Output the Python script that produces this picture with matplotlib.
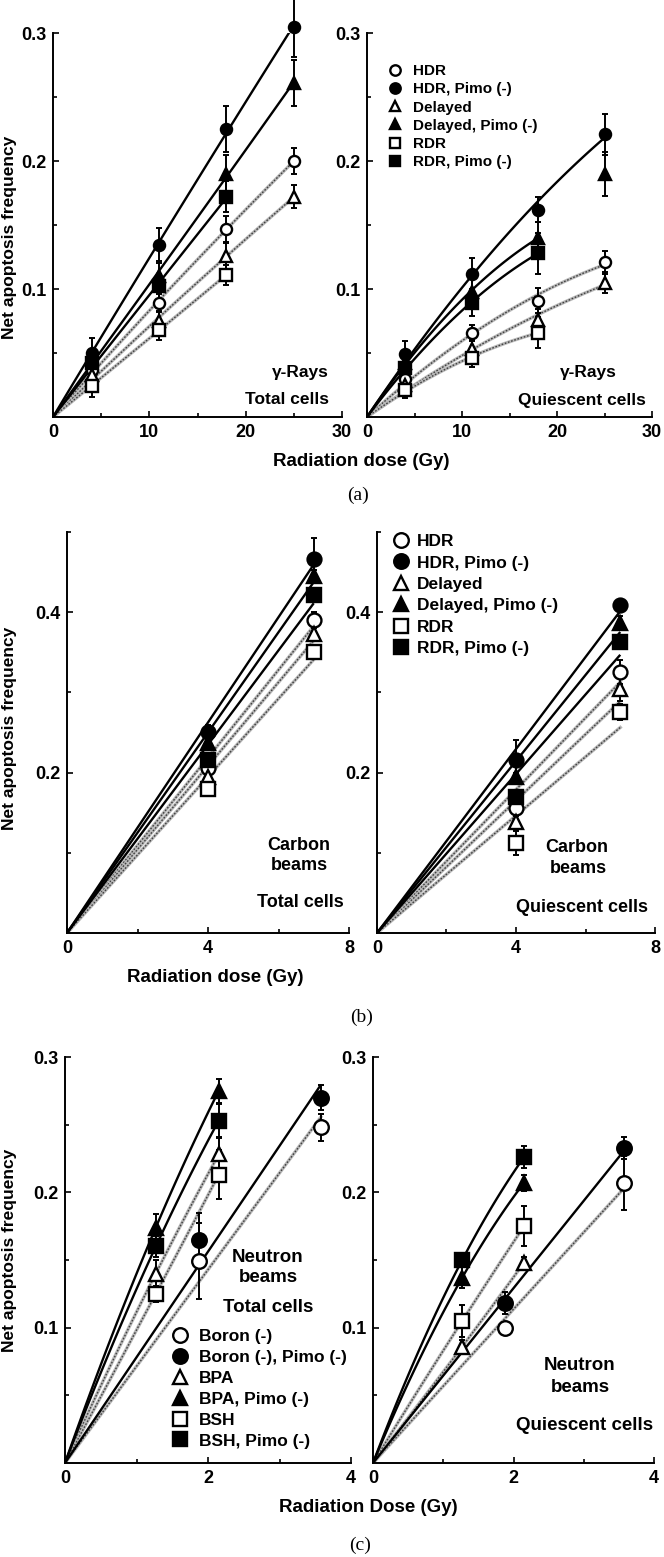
import numpy as np
import matplotlib
matplotlib.use("Agg")
import matplotlib.pyplot as plt
from matplotlib.lines import Line2D
from matplotlib.ticker import FormatStrFormatter

plt.rcParams['font.family'] = ['Liberation Sans', 'DejaVu Sans']
plt.rcParams['font.weight'] = 'bold'

W, H = 664, 1557  # figure size in pixels

markers = ['o', 'o', '^', '^', 's', 's']
filled = [False, True, False, True, False, True]

# ---- (a) gamma rays ----
dose_a = [4, 11, 18, 25]
names_a = ["HDR", "HDR, Pimo (-)", "Delayed", "Delayed, Pimo (-)", "RDR", "RDR, Pimo (-)"]
nan = np.nan
total_a = [
    [0.037, 0.089, 0.147, 0.200],
    [0.050, 0.134, 0.225, 0.305],
    [0.033, 0.075, 0.126, 0.172],
    [0.045, 0.110, 0.190, 0.261],
    [0.024, 0.068, 0.111, nan],
    [0.042, 0.102, 0.172, nan],
]
total_a_err = [
    [0.005, 0.007, 0.010, 0.010],
    [0.012, 0.014, 0.018, 0.024],
    [0.005, 0.008, 0.010, 0.009],
    [0.008, 0.012, 0.015, 0.018],
    [0.008, 0.008, 0.008, nan],
    [0.008, 0.010, 0.012, nan],
]
quies_a = [
    [0.030, 0.066, 0.091, 0.121],
    [0.049, 0.112, 0.162, 0.221],
    [0.025, 0.053, 0.076, 0.105],
    [0.042, 0.098, 0.140, 0.190],
    [0.021, 0.046, 0.066, nan],
    [0.038, 0.089, 0.128, nan],
]
quies_a_err = [
    [0.006, 0.006, 0.010, 0.009],
    [0.010, 0.012, 0.010, 0.016],
    [0.005, 0.006, 0.008, 0.008],
    [0.008, 0.010, 0.012, 0.017],
    [0.006, 0.007, 0.012, nan],
    [0.008, 0.010, 0.016, nan],
]
fit_end_total_a = [25, 25, 25, 25, 18, 18]
fit_end_quies_a = [25, 25, 25, 18, 18, 18]

# ---- (b) carbon beams ----
dose_b = [4, 7]
total_b = [
    [0.206, 0.390],
    [0.251, 0.466],
    [0.194, 0.373],
    [0.237, 0.445],
    [0.179, 0.350],
    [0.216, 0.422],
]
total_b_err = [
    [0.006, 0.010],
    [0.008, 0.027],
    [0.006, 0.008],
    [0.006, 0.008],
    [0.006, 0.008],
    [0.006, 0.008],
]
quies_b = [
    [0.156, 0.326],
    [0.216, 0.409],
    [0.139, 0.304],
    [0.194, 0.387],
    [0.112, 0.276],
    [0.170, 0.363],
]
quies_b_err = [
    [0.010, 0.015],
    [0.025, 0.005],
    [0.010, 0.015],
    [0.006, 0.008],
    [0.015, 0.010],
    [0.006, 0.008],
]

# ---- (c) neutron beams ----
dose_boron = [1.88, 3.58]
dose_bpa = [1.27, 2.15]
names_c = ["Boron (-)", "Boron (-), Pimo (-)", "BPA", "BPA, Pimo (-)", "BSH", "BSH, Pimo (-)"]
dose_c = [dose_boron, dose_boron, dose_bpa, dose_bpa, dose_bpa, dose_bpa]
total_c = [
    [0.149, 0.248],
    [0.165, 0.270],
    [0.140, 0.228],
    [0.174, 0.275],
    [0.125, 0.213],
    [0.160, 0.253],
]
total_c_err = [
    [0.028, 0.010],
    [0.020, 0.009],
    [0.010, 0.012],
    [0.010, 0.009],
    [0.006, 0.018],
    [0.008, 0.012],
]
quies_c = [
    [0.100, 0.207],
    [0.118, 0.233],
    [0.086, 0.148],
    [0.137, 0.207],
    [0.105, 0.175],
    [0.150, 0.226],
]
quies_c_err = [
    [0.004, 0.020],
    [0.008, 0.008],
    [0.005, 0.004],
    [0.008, 0.006],
    [0.012, 0.015],
    [0.004, 0.008],
]
quad_c = [False, False, True, True, True, True]

fig = plt.figure(figsize=(W / 100, H / 100), dpi=100)


def add_ax(x0, x1, y0, y1):
    # pixel box -> figure fraction
    return fig.add_axes([x0 / W, 1 - y1 / H, (x1 - x0) / W, (y1 - y0) / H])


def ftext(x, y, s, **kw):
    fig.text(x / W, 1 - y / H, s, ha='center', va='center', **kw)


def setup(ax, xmax, xmaj, xmin, ymax, ymaj, ymin):
    ax.set_xlim(0, xmax)
    ax.set_ylim(0, ymax)
    ax.set_xticks(xmaj)
    ax.set_xticks(xmin, minor=True)
    ax.set_yticks(ymaj)
    ax.set_yticks(ymin, minor=True)
    ax.yaxis.set_major_formatter(FormatStrFormatter('%.1f'))
    for s in ['top', 'right']:
        ax.spines[s].set_visible(False)
    for s in ['left', 'bottom']:
        ax.spines[s].set_linewidth(1.4)
    ax.tick_params(which='major', direction='in', length=4, width=1.2, labelsize=13, pad=5)
    ax.tick_params(which='minor', direction='in', length=3, width=1.2)
    ax.patch.set_alpha(0)


def fit_line(d, y, quad, dmax):
    d = np.asarray(d, float)
    y = np.asarray(y, float)
    ok = ~np.isnan(y) & (d <= dmax)
    d, y = d[ok], y[ok]
    A = np.column_stack([d, d ** 2]) if quad else d[:, None]
    coef = np.linalg.lstsq(A, y, rcond=None)[0]
    xs = np.linspace(0, d.max(), 80)
    ys = coef[0] * xs + (coef[1] * xs ** 2 if quad else 0)
    return xs, ys


def draw(ax, doses, vals, errs, quad, fit_end, ms):
    for i in range(6):
        xs, ys = fit_line(doses[i], vals[i], quad[i], fit_end[i])
        if filled[i]:
            ax.plot(xs, ys, color='k', lw=1.7, zorder=3, solid_capstyle='butt')
        else:
            ax.plot(xs, ys, color='0.72', lw=2.4, zorder=2)
            ax.plot(xs, ys, color='0.25', lw=1.0, dashes=(1.2, 1.2), zorder=2)
    for i in range(6):
        ax.errorbar(doses[i], vals[i], yerr=errs[i], fmt='none', ecolor='k',
                    elinewidth=1.4, capsize=2.5, capthick=1.4, zorder=4, clip_on=False)
        ax.plot(doses[i], vals[i], ls='none', marker=markers[i], ms=ms,
                mfc='k' if filled[i] else 'white', mec='k', mew=1.7, zorder=5, clip_on=False)


def add_legend(ax, labels, ms, fs, x, y, hl, pad, sp):
    handles = [Line2D([], [], ls='none', marker=markers[i], ms=ms,
                      mfc='k' if filled[i] else 'white', mec='k', mew=1.7) for i in range(6)]
    ax.legend(handles, labels, loc='upper left', bbox_to_anchor=(x / W, 1 - y / H),
              bbox_transform=fig.transFigure, frameon=False, borderpad=0, borderaxespad=0,
              handlelength=hl, handletextpad=pad, labelspacing=sp,
              prop={'size': fs, 'weight': 'bold'})


# row (a)
ax1 = add_ax(53, 342, 33, 417)
ax2 = add_ax(367, 652, 33, 417)
for ax in (ax1, ax2):
    setup(ax, 30, [0, 10, 20, 30], [5, 15, 25], 0.3, [0.1, 0.2, 0.3], [0.05, 0.15, 0.25])
draw(ax1, [dose_a] * 6, total_a, total_a_err, [True] * 6, fit_end_total_a, 8)
draw(ax2, [dose_a] * 6, quies_a, quies_a_err, [True] * 6, fit_end_quies_a, 8)
add_legend(ax2, names_a, 7.5, 11, 388, 64, 0.9, 0.75, 0.28)
ftext(300, 372, "γ-Rays", fontsize=12.5)
ftext(287, 400, "Total cells", fontsize=12.5)
ftext(588, 372, "γ-Rays", fontsize=12.5)
ftext(582, 400, "Quiescent cells", fontsize=12.5)
ftext(361, 462, "Radiation dose (Gy)", fontsize=13.5)
ftext(10, 237, "Net apoptosis frequency", fontsize=12.5, rotation=90)
ftext(358, 495, "(a)", fontsize=14, family='Liberation Serif', weight='normal')

# row (b)
ax3 = add_ax(67, 349, 532, 933)
ax4 = add_ax(377, 655, 532, 933)
for ax in (ax3, ax4):
    setup(ax, 8, [0, 4, 8], [2, 6], 0.5, [0.2, 0.4], [0.1, 0.3, 0.5])
draw(ax3, [dose_b] * 6, total_b, total_b_err, [False] * 6, [8] * 6, 10)
draw(ax4, [dose_b] * 6, quies_b, quies_b_err, [False] * 6, [8] * 6, 10)
add_legend(ax4, names_a, 10.5, 12.5, 394, 534, 0.8, 0.5, 0.36)
ftext(299, 845, "Carbon", fontsize=13)
ftext(299, 865, "beams", fontsize=13)
ftext(300, 903, "Total cells", fontsize=13)
ftext(577, 848, "Carbon", fontsize=13)
ftext(578, 868, "beams", fontsize=13)
ftext(582, 907, "Quiescent cells", fontsize=13)
ftext(215, 977, "Radiation dose (Gy)", fontsize=13.5)
ftext(10, 728, "Net apoptosis frequency", fontsize=12.5, rotation=90)
ftext(362, 1017, "(b)", fontsize=14, family='Liberation Serif', weight='normal')

# row (c)
ax5 = add_ax(65, 351, 1057, 1463)
ax6 = add_ax(373, 654, 1057, 1463)
for ax in (ax5, ax6):
    setup(ax, 4, [0, 2, 4], [1, 3], 0.3, [0.1, 0.2, 0.3], [0.05, 0.15, 0.25])
draw(ax5, dose_c, total_c, total_c_err, quad_c, [4] * 6, 10.5)
draw(ax6, dose_c, quies_c, quies_c_err, quad_c, [4] * 6, 10.5)
add_legend(ax5, names_c, 10.5, 12.5, 173, 1329, 0.8, 0.7, 0.33)
ftext(268, 1257, "Neutron", fontsize=13.5)
ftext(268, 1278, "beams", fontsize=13.5)
ftext(268, 1308, "Total cells", fontsize=13.5)
ftext(580, 1365, "Neutron", fontsize=13.5)
ftext(580, 1387, "beams", fontsize=13.5)
ftext(585, 1425, "Quiescent cells", fontsize=13.5)
ftext(368, 1508, "Radiation Dose (Gy)", fontsize=13.5)
ftext(10, 1250, "Net apoptosis frequency", fontsize=12.5, rotation=90)
ftext(360, 1545, "(c)", fontsize=14, family='Liberation Serif', weight='normal')

fig.savefig("out.png", dpi=100)
